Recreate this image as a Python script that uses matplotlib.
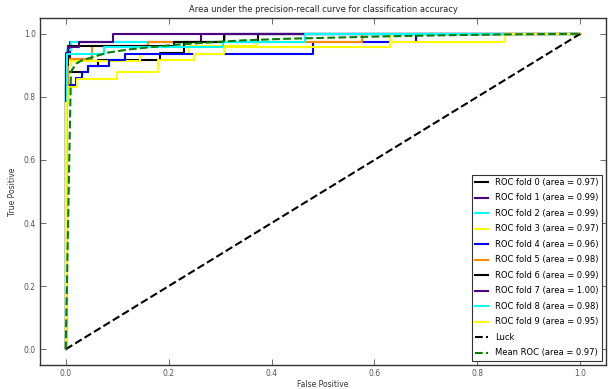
import matplotlib
matplotlib.use("Agg")
import matplotlib.pyplot as plt

# ROC curves of the 10 folds (staircases)
fold_colors = ['black', 'indigo', 'cyan', 'yellow', 'blue', 'darkorange',
               'black', 'indigo', 'cyan', 'yellow']
fold_auc = [0.97, 0.99, 0.99, 0.97, 0.96, 0.98, 0.99, 1.00, 0.98, 0.95]

fpr0 = [0, 0, 0.005, 0.005, 0.043, 0.043, 0.062, 0.062, 0.183, 0.183, 0.230, 0.230, 0.374, 0.374, 1]
tpr0 = [0, 0.84, 0.84, 0.88, 0.88, 0.898, 0.898, 0.918, 0.918, 0.94, 0.94, 0.973, 0.973, 1.0, 1.0]
fpr1 = [0, 0, 0.008, 0.008, 0.263, 0.263, 1]
tpr1 = [0, 0.92, 0.92, 0.975, 0.975, 1.0, 1.0]
fpr2 = [0, 0, 0.002, 0.002, 0.01, 0.01, 0.31, 0.31, 1]
tpr2 = [0, 0.88, 0.88, 0.95, 0.95, 0.975, 0.975, 1.0, 1.0]
fpr3 = [0, 0, 0.004, 0.004, 0.01, 0.01, 0.145, 0.145, 0.24, 0.24, 0.37, 0.37, 0.63, 0.63, 1]
tpr3 = [0, 0.82, 0.82, 0.90, 0.90, 0.915, 0.915, 0.937, 0.937, 0.96, 0.96, 0.975, 0.975, 1.0, 1.0]
fpr4 = [0, 0, 0.02, 0.02, 0.031, 0.031, 0.043, 0.043, 0.084, 0.084, 0.115, 0.115, 0.48, 0.48, 0.68, 0.68, 1]
tpr4 = [0, 0.838, 0.838, 0.859, 0.859, 0.88, 0.88, 0.898, 0.898, 0.918, 0.918, 0.937, 0.937, 0.975, 0.975, 1.0, 1.0]
fpr5 = [0, 0, 0.004, 0.004, 0.052, 0.052, 0.16, 0.16, 0.576, 0.576, 1]
tpr5 = [0, 0.78, 0.78, 0.92, 0.92, 0.96, 0.96, 0.975, 0.975, 1.0, 1.0]
fpr6 = [0, 0, 0.004, 0.004, 0.21, 0.21, 0.307, 0.307, 1]
tpr6 = [0, 0.90, 0.90, 0.96, 0.96, 0.975, 0.975, 1.0, 1.0]
fpr7 = [0, 0, 0.004, 0.004, 0.025, 0.025, 0.091, 0.091, 1]
tpr7 = [0, 0.94, 0.94, 0.958, 0.958, 0.975, 0.975, 1.0, 1.0]
fpr8 = [0, 0, 0.002, 0.002, 0.074, 0.074, 0.305, 0.305, 0.465, 0.465, 1]
tpr8 = [0, 0.78, 0.78, 0.937, 0.937, 0.958, 0.958, 0.975, 0.975, 1.0, 1.0]
fpr9 = [0, 0, 0.004, 0.004, 0.021, 0.021, 0.099, 0.099, 0.179, 0.179, 0.249, 0.249, 0.307, 0.307, 0.63, 0.63, 0.854, 0.854, 1]
tpr9 = [0, 0.78, 0.78, 0.83, 0.83, 0.857, 0.857, 0.878, 0.878, 0.918, 0.918, 0.937, 0.937, 0.958, 0.958, 0.975, 0.975, 1.0, 1.0]

fprs = [fpr0, fpr1, fpr2, fpr3, fpr4, fpr5, fpr6, fpr7, fpr8, fpr9]
tprs = [tpr0, tpr1, tpr2, tpr3, tpr4, tpr5, tpr6, tpr7, tpr8, tpr9]

mean_fpr = [0, 0.0101, 0.0202, 0.0303, 0.0505, 0.0808, 0.1212, 0.1616, 0.2121,
            0.2727, 0.3434, 0.4242, 0.5253, 0.6263, 0.7273, 0.8485, 1.0]
mean_tpr = [0, 0.88, 0.905, 0.915, 0.925, 0.94, 0.950, 0.957, 0.965,
            0.972, 0.979, 0.984, 0.988, 0.992, 0.995, 0.998, 1.0]
mean_auc = 0.97

plt.rcParams['font.family'] = 'DejaVu Sans'
plt.rcParams['font.size'] = 6

fig = plt.figure(figsize=(6.08, 3.89), dpi=100)
ax = fig.add_axes([0.0658, 0.0617, 0.9309, 0.892])

for i in range(10):
    ax.plot(fprs[i], tprs[i], color=fold_colors[i], lw=1.5,
            label='ROC fold %d (area = %0.2f)' % (i, fold_auc[i]))

ax.plot([0, 1], [0, 1], linestyle='--', lw=1.5, color='k', label='Luck')
ax.plot(mean_fpr, mean_tpr, color='g', linestyle='--', lw=1.5,
        label='Mean ROC (area = %0.2f)' % mean_auc)

ax.set_xlim([-0.05, 1.05])
ax.set_ylim([-0.05, 1.05])
ax.set_xticks([0, 0.2, 0.4, 0.6, 0.8, 1.0])
ax.set_yticks([0, 0.2, 0.4, 0.6, 0.8, 1.0])
ax.set_xlabel('False Positive', fontsize=5.5, color='#333333', labelpad=1)
ax.set_ylabel('True Positive', fontsize=5.5, color='#333333', labelpad=5)
ax.set_title('Area under the precision-recall curve for classification accuracy',
             fontsize=6, color='#222222', pad=4)
ax.tick_params(direction='in', top=True, right=True, length=4, width=0.6,
               colors='#555555', labelsize=5.5, pad=3)
for s in ax.spines.values():
    s.set_color('#333333')
    s.set_linewidth(1.0)

leg = ax.legend(loc='lower right', fontsize=6, handlelength=1.6, labelspacing=0.78,
                borderaxespad=0.5, fancybox=False, framealpha=1)
leg.get_frame().set_edgecolor('#333333')
leg.get_frame().set_linewidth(0.8)

fig.savefig('out.png', dpi=100)
